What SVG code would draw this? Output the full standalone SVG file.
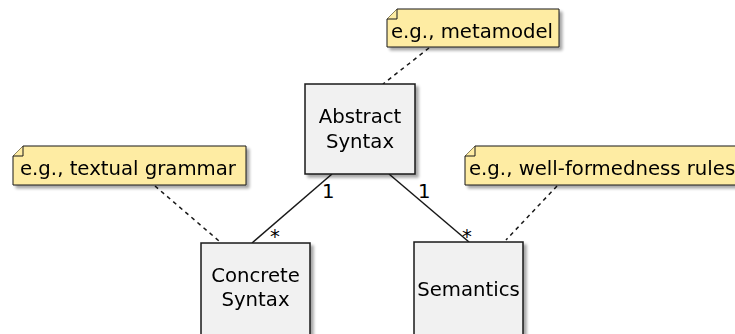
<svg xmlns="http://www.w3.org/2000/svg" width="735" height="334" viewBox="0 0 735 334">
<defs>
<filter id="sh" x="-10%" y="-10%" width="130%" height="130%">
<feGaussianBlur in="SourceAlpha" stdDeviation="1.5"/>
<feOffset dx="3" dy="3" result="b"/>
<feComponentTransfer><feFuncA type="linear" slope="0.35"/></feComponentTransfer>
<feMerge><feMergeNode/><feMergeNode in="SourceGraphic"/></feMerge>
</filter>
</defs>
<style>
text{font-family:"DejaVu Sans",sans-serif;font-size:19.7px;fill:#000}
.box{fill:#F1F1F1;stroke:#181818;stroke-width:1.5}
.note{fill:#FEECA3;stroke:#181818;stroke-width:1}
.assoc{stroke:#181818;stroke-width:1.5;fill:none}
.dot{stroke:#181818;stroke-width:1.5;fill:none;stroke-dasharray:4 4}
</style>
<rect width="735" height="334" fill="#FFFFFF"/>
<g id="connectors">
<line class="assoc" x1="332" y1="174" x2="252" y2="243"/>
<line class="assoc" x1="389" y1="174" x2="469" y2="242"/>
<line class="dot" x1="429" y1="48" x2="383" y2="84"/>
<line class="dot" x1="155" y1="186" x2="219" y2="241"/>
<line class="dot" x1="557" y1="186" x2="506" y2="240"/>
<text x="322" y="198">1</text>
<text x="270" y="243">*</text>
<text x="418" y="198">1</text>
<text x="462" y="243">*</text>
</g>
<g id="abstract" filter="url(#sh)">
<rect class="box" x="305" y="84" width="110" height="90"/>
<text x="360" y="123" text-anchor="middle">Abstract</text>
<text x="360" y="148" text-anchor="middle">Syntax</text>
</g>
<g id="concrete" filter="url(#sh)">
<rect class="box" x="201" y="243" width="109" height="100"/>
<text x="255.5" y="282" text-anchor="middle">Concrete</text>
<text x="255.5" y="306" text-anchor="middle">Syntax</text>
</g>
<g id="semantics" filter="url(#sh)">
<rect class="box" x="414" y="242" width="109" height="100"/>
<text x="468.5" y="296" text-anchor="middle">Semantics</text>
</g>
<g id="note-metamodel" filter="url(#sh)">
<path class="note" d="M387,19 L397,9 L559,9 L559,47 L387,47 Z"/>
<path class="note" d="M387,19 L397,19 L397,9"/>
<text x="391" y="38">e.g., metamodel</text>
</g>
<g id="note-grammar" filter="url(#sh)">
<path class="note" d="M13,156 L23,146 L246,146 L246,185 L13,185 Z"/>
<path class="note" d="M13,156 L23,156 L23,146"/>
<text x="20" y="175">e.g., textual grammar</text>
</g>
<g id="note-wellformed" filter="url(#sh)">
<path class="note" d="M465,156 L475,146 L740,146 L740,185 L465,185 Z"/>
<path class="note" d="M465,156 L475,156 L475,146"/>
<text x="469" y="175">e.g., well-formedness rules</text>
</g>
</svg>
